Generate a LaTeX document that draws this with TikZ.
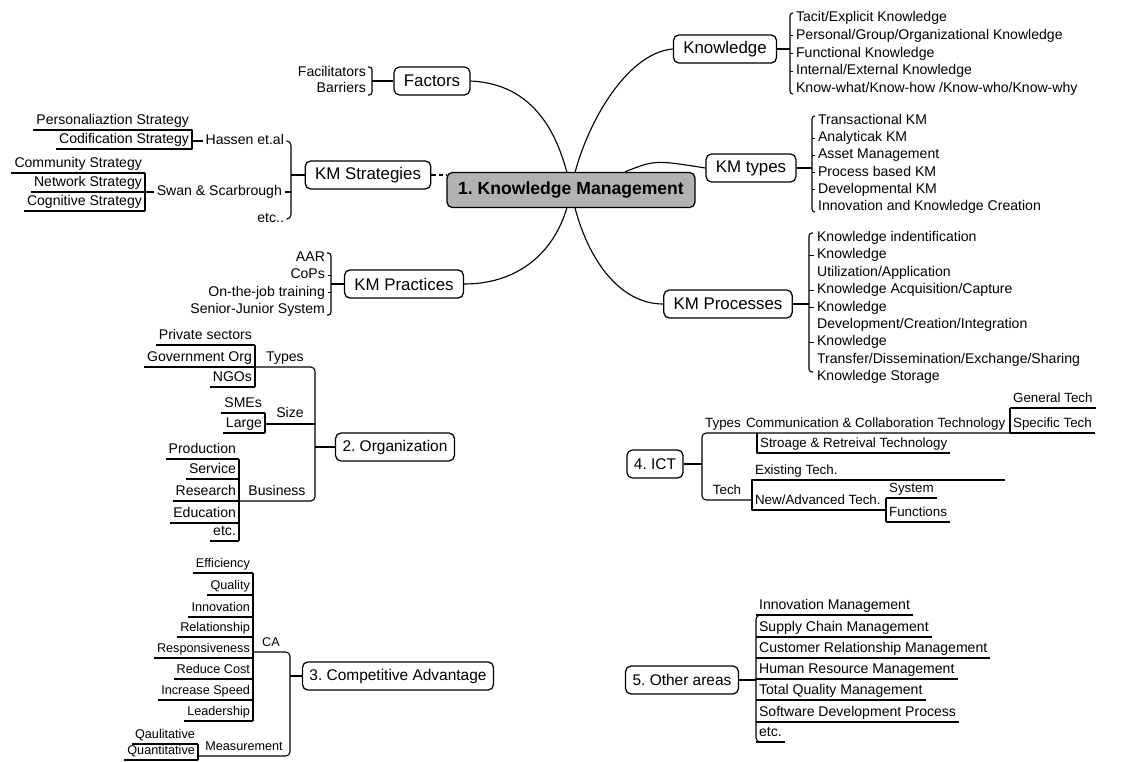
\documentclass[tikz,border=0pt]{standalone}
\usepackage{fontspec}
\setmainfont{Liberation Sans}
\usetikzlibrary{calc}
\frenchspacing

\tikzset{
  topic/.style={draw, line width=0.9pt, rounded corners=4pt, fill=white,
    minimum height=20pt, inner xsep=7pt, font=\fontsize{12}{14}\selectfont},
  subtopic/.style={topic, font=\fontsize{11}{13}\selectfont, inner xsep=5pt},
  maintopic/.style={topic, fill=gray!60, minimum height=25pt, inner xsep=8pt,
    font=\fontsize{12.5}{15}\selectfont\bfseries},
  item/.style={inner xsep=2pt, inner ysep=1.5pt, text height=7.5pt,
    text depth=2.5pt, font=\fontsize{10}{12}\selectfont},
  leaf/.style={item, anchor=south east},
  rleaf/.style={item, anchor=south west},
  link/.style={line width=0.8pt},
  smallfont/.style={font=\fontsize{9}{11}\selectfont},
  ictfont/.style={font=\fontsize{9.5}{11}\selectfont},
}

\begin{document}
\begin{tikzpicture}[x=0.025cm, y=-0.025cm, line join=round]
\useasboundingbox (0,0) rectangle (1144,762);

% branches of 1
\node[topic] (know) at (725,49) {Knowledge};
\node[topic] (kmtyp) at (751,168) {KM types};
\node[topic] (kmproc) at (728,304) {KM Processes};
\node[topic] (fact) at (432,81) {Factors};
\node[topic] (kmstrat) at (368,175) {KM Strategies};
\node[topic] (kmprac) at (404,284) {KM Practices};

\draw[link] (fact.east) .. controls (535,84) and (560,135) .. (571,190)
  .. controls (582,250) and (615,304) .. (kmproc.west);
\draw[link] (know.west) .. controls (625,53) and (582,130) .. (571,190)
  .. controls (561,250) and (520,284) .. (kmprac.east);
\node[maintopic] (km) at (571,190) {1. Knowledge Management};
\draw[link] ($(km.north)+(54,0)$) .. controls (655,160) .. (kmtyp.west);
\draw[link, densely dashed] (kmstrat.east) -- (km.west |- kmstrat.east);

% Knowledge
\foreach \t [count=\i] in {Tacit/Explicit Knowledge,
  Personal/Group/Organizational Knowledge, Functional Knowledge,
  Internal/External Knowledge, Know-what/Know-how /Know-who/Know-why}
  \node[item, anchor=west] (kn\i) at (793,{18+17.75*(\i-1)}) {\t};
\draw[link, rounded corners=2pt] (793,13) -- (790,13) -- (790,94) -- (793,94);
\foreach \i in {2,3,4} \draw[link] (kn\i.west -| 790,0) -- (kn\i.west);
\draw[link] (know.east) -- (know.east -| 790,0);

% KM types
\foreach \t [count=\i] in {Transactional KM, Analyticak KM, Asset Management,
  Process based KM, Developmental KM, Innovation and Knowledge Creation}
  \node[item, anchor=west] (ty\i) at (815,{121+17.2*(\i-1)}) {\t};
\draw[link, rounded corners=2pt] (815,116) -- (812,116) -- (812,212) -- (815,212);
\foreach \i in {2,3,4,5} \draw[link] (ty\i.west -| 812,0) -- (ty\i.west);
\draw[link] (kmtyp.east) -- (kmtyp.east -| 812,0);

% KM processes
\foreach \t [count=\i] in {Knowledge indentification, Knowledge,
  Utilization/Application, Knowledge Acquisition/Capture, Knowledge,
  Development/Creation/Integration, Knowledge,
  Transfer/Dissemination/Exchange/Sharing, Knowledge Storage}
  \node[item, anchor=west] (pr\i) at (814,{238+17.4*(\i-1)}) {\t};
\draw[link, rounded corners=2pt] (813,233) -- (809,233) -- (809,372) -- (813,372);
\foreach \i in {2,4,5,7} \draw[link] (pr\i.west -| 809,0) -- (pr\i.west);
\draw[link] (kmproc.east) -- (kmproc.east -| 809,0);

% Factors
\foreach \t [count=\i] in {Facilitators, Barriers}
  \node[item, anchor=east] (fa\i) at (369,{73+16*(\i-1)}) {\t};
\draw[link, rounded corners=2pt] (368,67) -- (372,67) -- (372,95) -- (368,95);
\draw[link] (fact.west) -- (fact.west -| 372,0);

% KM practices
\foreach \t [count=\i] in {AAR, CoPs, On-the-job training, Senior-Junior System}
  \node[item, anchor=east] (pc\i) at (328,{258+17.3*(\i-1)}) {\t};
\draw[link, rounded corners=2pt] (327,253) -- (331,253) -- (331,315) -- (327,315);
\foreach \i in {2,3} \draw[link] (pc\i.east -| 331,0) -- (pc\i.east);
\draw[link] (kmprac.west) -- (kmprac.west -| 331,0);

% KM strategies
\node[item, anchor=east] (hass) at (287,141) {Hassen et.al};
\node[item, anchor=east] (swan) at (285,192) {Swan \& Scarbrough};
\node[item, anchor=east] (setc) at (287,219) {etc..};
\draw[link, rounded corners=3pt] (hass.east) -- (hass.east -| 291,0)
  -- (setc.east -| 291,0) -- (setc.east);
\draw[link] (kmstrat.west) -- (kmstrat.west -| 291,0);
\draw[link] (swan.east) -- (swan.east -| 291,0);

\node[leaf] (pers) at (192,130) {Personaliaztion Strategy};
\node[leaf] (codi) at (192,149) {Codification Strategy};
\draw[link] (pers.south west) -- (pers.south east) -- (codi.south east)
  -- (codi.south west);
\draw[link] (hass.west -| 192,0) -- (hass.west);

\foreach \t/\y [count=\i] in {Community Strategy/173, Network Strategy/192,
  Cognitive Strategy/211} {
  \node[leaf] (sw\i) at (145,\y) {\t};
  \draw[link] (sw\i.south west) -- (sw\i.south east);
}
\draw[link] (sw1.south east) -- (sw3.south east);
\draw[link] (swan.west -| 145,0) -- (swan.west);

% 2. Organization
\node[subtopic] (org) at (395,447) {2. Organization};
\draw[link] (org.west) -- (org.west -| 315,0);
\foreach \t/\y [count=\i] in {Private sectors/345, Government Org/367, NGOs/387} {
  \node[leaf] (ot\i) at (255,\y) {\t};
  \draw[link] (ot\i.south west) -- (ot\i.south east);
}
\draw[link] (ot1.south east) -- (ot3.south east);
\foreach \t/\y [count=\i] in {SMEs/413, Large/433} {
  \node[leaf] (os\i) at (265,\y) {\t};
  \draw[link] (os\i.south west) -- (os\i.south east);
}
\draw[link] (os1.south east) -- (os2.south east);
\foreach \t/\y [count=\i] in {Production/459, Service/479, Research/501,
  Education/523, etc./541} {
  \node[leaf] (ob\i) at (239,\y) {\t};
  \draw[link] (ob\i.south west) -- (ob\i.south east);
}
\draw[link] (ob1.south east) -- (ob5.south east);
\draw[link, rounded corners=3pt] (ot2.south east) -- (315,367) -- (315,501)
  -- (ob3.south east);
\draw[link] (265,424) -- node[item, above] (osize) {Size} (315,424);
\node[item, anchor=south] (otypes) at (285,367) {Types};
\node[item, anchor=south] (obus) at (277,501) {Business};

% 3. Competitive Advantage
\node[subtopic] (cadv) at (398,676) {3. Competitive Advantage};
\draw[link] (cadv.west) -- (cadv.west -| 290,0);
\foreach \t/\y [count=\i] in {Efficiency/573, Quality/595, Innovation/617,
  Relationship/637, Responsiveness/658, Reduce Cost/679, Increase Speed/700,
  Leadership/721} {
  \node[leaf, smallfont] (ca\i) at (253,\y) {\t};
  \draw[link] (ca\i.south west) -- (ca\i.south east);
}
\draw[link] (ca1.south east) -- (ca8.south east);
\draw[link, rounded corners=3pt] (253,652) -- (290,652) -- (290,756) -- (198,756);
\node[item, smallfont, anchor=south] (calab) at (271,652) {CA};
\node[item, smallfont, anchor=south] (meas) at (244,756) {Measurement};
\foreach \t/\y [count=\i] in {Qaulitative/744, Quantitative/760} {
  \node[leaf, smallfont] (me\i) at (198,\y) {\t};
  \draw[link] (me\i.south west) -- (me\i.south east);
}
\draw[link] (me1.south east) -- (me2.south east);

% 4. ICT
\node[subtopic] (ict) at (655,464) {4. ICT};
\draw[link] (ict.east) -- (ict.east -| 702,0);
\draw[link, rounded corners=3pt] (1010,433) -- (702,433) -- (702,500) -- (752,500);
\node[item, ictfont, anchor=south] (itypes) at (723,433) {Types};
\node[item, ictfont, anchor=south] (itech) at (727,500) {Tech};
\node[rleaf, ictfont] (comm) at (743,433) {Communication \& Collaboration Technology};
\foreach \t/\y [count=\i] in {General Tech/408, Specific Tech/433} {
  \node[rleaf, ictfont] (gs\i) at (1010,\y) {\t};
  \draw[link] (gs\i.south west) -- (gs\i.south east);
}
\draw[link] (gs1.south west) -- (gs2.south west);
\node[rleaf, ictfont] (stor) at (757,453) {Stroage \& Retreival Technology};
\draw[link] (stor.south west |- 0,433) -- (stor.south west) -- (stor.south east);
\node[rleaf, ictfont] (exist) at (752,480) {Existing Tech.};
\node[rleaf, ictfont] (newt) at (752,510) {New/Advanced Tech.};
\draw[link] (1005,480) -- (exist.south west) -- (newt.south west) -- (886,510);
\foreach \t/\y [count=\i] in {System/498, Functions/522} {
  \node[rleaf, ictfont] (sf\i) at (886,\y) {\t};
  \draw[link] (sf\i.south west) -- (sf\i.south east);
}
\draw[link] (sf1.south west) -- (sf2.south west);

% 5. Other areas
\node[subtopic] (other) at (682,680) {5. Other areas};
\draw[link] (other.east) -- (other.east -| 756,0);
\foreach \t/\y [count=\i] in {Innovation Management/615,
  Supply Chain Management/637, Customer Relationship Management/658,
  Human Resource Management/679, Total Quality Management/700,
  Software Development Process/722, etc./742} {
  \node[rleaf] (oa\i) at (756,\y) {\t};
  \draw[link] (oa\i.south west) -- (oa\i.south east);
}
\draw[link, rounded corners=3pt] (oa1.south east) -- (oa1.south west)
  -- (oa7.south west) -- (oa7.south east);
\end{tikzpicture}
\end{document}
